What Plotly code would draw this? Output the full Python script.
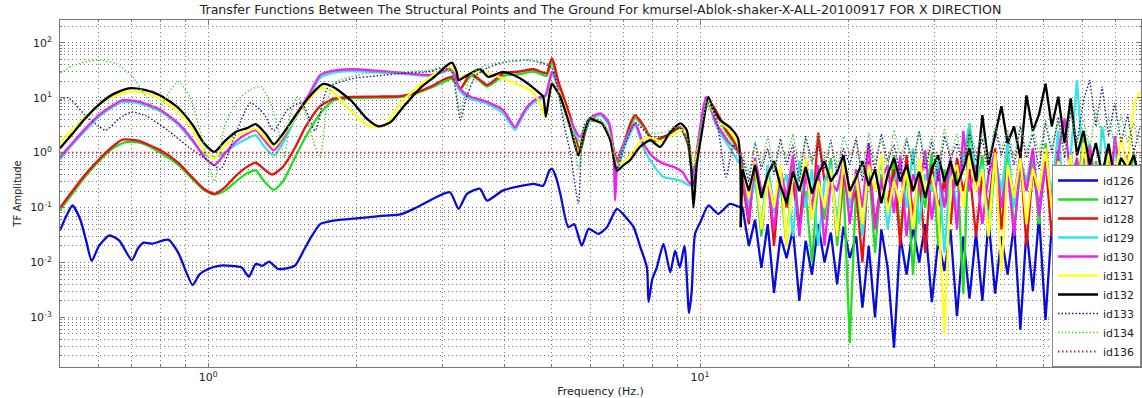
import plotly.graph_objects as go

# ---------------- data ----------------
TITLE = ("Transfer Functions Between The Structural Points and The Ground For "
         "kmursel-Ablok-shaker-X-ALL-20100917 FOR X DIRECTION")

# shared frequency grid for the noisy high-frequency part (Hz)
NOISE_F = [12.2, 12.57, 12.94, 13.33, 13.73, 14.14, 14.57, 15.0, 15.45, 15.92,
           16.4, 16.89, 17.39, 17.91, 18.45, 19.0, 19.57, 20.16, 20.77, 21.39,
           22.03, 22.69, 23.37, 24.07, 24.8, 25.54, 26.3, 27.1, 27.9, 28.7,
           29.6, 30.5, 31.4, 32.3, 33.3, 34.3, 35.3, 36.4, 37.5, 38.6,
           39.8, 41.0, 42.2, 43.5, 44.8, 46.1, 47.5, 48.9, 50.4, 51.9,
           53.5, 55.1, 56.7, 58.4, 60.2, 62.0, 63.8, 65.7, 67.7, 69.7,
           71.8, 74.0, 76.2, 78.5]

# id126 (blue)
F126 = [0.5, 0.515, 0.53, 0.55, 0.565, 0.58, 0.6, 0.63, 0.66, 0.7, 0.72, 0.74, 0.77, 0.83, 0.87,
        0.93, 0.96, 1.0, 1.06, 1.17, 1.21, 1.25, 1.29, 1.33, 1.39, 1.5, 1.57, 1.62, 1.69, 1.8,
        1.95, 2.28, 2.46, 2.66, 3.1, 3.23, 3.36, 3.57, 3.69, 3.98, 4.59, 4.8, 4.93, 5.0, 5.1,
        5.2, 5.4, 5.55, 5.75, 5.94, 6.22, 6.47, 6.78, 7.16, 7.33, 7.55, 7.8, 7.86, 8.0, 8.17,
        8.43, 8.7, 8.9, 9.1, 9.3, 9.5, 9.62, 9.77, 10.05, 10.4, 10.9, 11.5, 12.1]
V126 = [0.038, 0.07, 0.109, 0.06, 0.025, 0.0107, 0.02, 0.031, 0.025, 0.011, 0.018, 0.023, 0.022, 0.026, 0.015,
        0.0039, 0.006, 0.0076, 0.0088, 0.0081, 0.0055, 0.0094, 0.0087, 0.0104, 0.0076, 0.0087, 0.0176, 0.029, 0.05, 0.058,
        0.062, 0.071, 0.075, 0.101, 0.19, 0.095, 0.178, 0.22, 0.134, 0.205, 0.27, 0.25, 0.45, 0.51, 0.35,
        0.178, 0.044, 0.05, 0.0203, 0.041, 0.033, 0.044, 0.095, 0.058, 0.044, 0.02, 0.0081, 0.0019, 0.005, 0.0081,
        0.0218, 0.0066, 0.0164, 0.0081, 0.0203, 0.0012, 0.003, 0.033, 0.058, 0.109, 0.077, 0.117, 0.1]
N126 = [0.1, 0.02, 0.06, 0.008, 0.05, 0.0028, 0.03, 0.012, 0.04, 0.002, 0.025, 0.006, 0.05, 0.01, 0.035,
        0.004, 0.045, 0.012, 0.03, 0.0015, 0.02, 0.001, 0.04, 0.008, 0.00028, 0.03, 0.006, 0.045, 0.01, 0.05,
        0.0019, 0.025, 0.007, 0.04, 0.00105, 0.03, 0.0022, 0.035, 0.002, 0.06, 0.0027, 0.03, 0.006, 0.05, 0.0006,
        0.04, 0.003, 0.07, 0.0009, 0.05, 0.004, 0.06, 0.002, 0.045, 0.008, 0.03, 0.003, 0.05, 0.006, 0.04,
        0.002, 0.03, 0.005, 0.02]

# id127 (green)
F127 = [0.5, 0.53, 0.56, 0.6, 0.64, 0.68, 0.73, 0.8, 0.87, 0.93, 0.98, 1.03, 1.08, 1.14, 1.2, 1.25,
        1.3, 1.36, 1.42, 1.5, 1.6, 1.7, 1.8, 1.95, 2.2, 2.46, 2.65, 2.83, 3.0, 3.13, 3.2, 3.26,
        3.42, 3.55, 3.69, 3.85, 3.98, 4.3, 4.59, 4.88, 4.95, 5.0, 5.05, 5.15, 5.28, 5.45, 5.7,
        5.85, 5.97, 6.32, 6.6, 6.78, 7.04, 7.2, 7.38, 7.67, 8.03, 8.56, 9.13, 9.45, 9.7, 9.85,
        10.05, 10.4, 10.95, 11.3, 11.7, 12.1]
V127 = [0.09, 0.18, 0.35, 0.7, 1.2, 1.56, 1.5, 1.0, 0.6, 0.33, 0.21, 0.173, 0.2, 0.3, 0.42, 0.475,
        0.3, 0.21, 0.3, 0.8, 2.4, 5.5, 9.0, 9.8, 10.0, 10.3, 12.0, 15.0, 19.0, 22.0, 17.0, 14.5,
        25.0, 21.0, 16.0, 20.0, 25.0, 27.0, 30.0, 25.0, 36.0, 44.0, 36.0, 18.0, 9.5, 4.2, 1.0,
        2.4, 3.8, 3.4, 1.6, 0.62, 1.5, 2.9, 4.3, 3.0, 1.6, 1.95, 2.7, 1.4, 0.3, 0.9,
        2.6, 8.0, 4.2, 2.4, 1.5, 0.85]
N127 = [0.6, 0.08, 0.4, 0.03, 0.5, 0.1, 0.3, 0.02, 0.6, 0.05, 0.2, 0.01, 0.35, 0.06, 0.8, 0.02,
        0.3, 0.00034, 0.25, 0.04, 0.6, 0.015, 0.4, 0.08, 0.9, 0.03, 0.5, 0.006, 0.3, 0.1, 1.0, 0.02,
        0.5, 0.05, 0.7, 0.0027, 3.4, 0.2, 0.9, 0.03, 0.6, 0.1, 1.2, 0.04, 0.5, 0.2, 0.8, 0.05,
        1.5, 0.1, 0.6, 0.03, 0.9, 0.2, 1.8, 0.08, 0.7, 0.15, 1.2, 0.05, 0.6, 0.2, 1.0, 0.1]

# id128 (red)
F128 = [0.5, 0.53, 0.56, 0.6, 0.64, 0.67, 0.72, 0.8, 0.87, 0.93, 0.98, 1.03, 1.08, 1.14, 1.2, 1.25,
        1.3, 1.35, 1.42, 1.5, 1.58, 1.69, 1.8, 1.95, 2.2, 2.46, 2.65, 2.83, 3.0, 3.13, 3.2, 3.26,
        3.42, 3.55, 3.69, 3.85, 3.98, 4.3, 4.59, 4.88, 4.95, 5.0, 5.05, 5.15, 5.28, 5.45, 5.7,
        5.85, 5.97, 6.32, 6.6, 6.78, 7.04, 7.2, 7.38, 7.67, 8.03, 8.56, 9.13, 9.45, 9.7, 9.85,
        10.05, 10.4, 10.95, 11.3, 11.7, 12.1]
V128 = [0.1, 0.2, 0.38, 0.75, 1.3, 1.73, 1.65, 1.1, 0.65, 0.35, 0.22, 0.178, 0.23, 0.38, 0.55, 0.66,
        0.5, 0.4, 0.55, 1.2, 3.0, 7.0, 9.6, 10.4, 10.5, 10.7, 12.5, 15.8, 21.0, 24.0, 18.0, 14.8,
        27.8, 22.0, 17.0, 22.0, 27.8, 30.0, 33.0, 27.8, 42.0, 52.0, 42.0, 20.0, 10.4, 4.5, 1.1,
        2.5, 3.9, 3.6, 1.7, 0.72, 1.68, 3.2, 4.8, 3.15, 1.68, 2.07, 2.9, 1.5, 0.27, 1.0,
        2.9, 9.0, 4.5, 2.6, 1.68, 0.96]
N128 = [0.3, 0.05, 0.7, 0.15, 0.4, 0.02, 0.5, 0.1, 0.3, 0.04, 0.8, 0.06, 2.3, 0.3, 0.5, 0.03,
        0.4, 0.1, 0.2, 0.01, 0.7, 0.05, 0.3, 0.12, 0.5, 0.02, 0.9, 0.07, 0.4, 0.015, 0.6, 0.1,
        0.3, 0.05, 0.8, 0.2, 0.5, 0.03, 0.4, 0.09, 1.2, 0.04, 0.6, 0.15, 0.9, 0.02, 0.5, 0.1,
        0.7, 0.03, 1.1, 0.2, 0.4, 0.06, 0.8, 0.1, 0.5, 0.04, 0.9, 0.15, 0.6, 0.08, 0.4, 0.2]

# id129 (cyan)
F129 = [0.5, 0.53, 0.56, 0.6, 0.64, 0.67, 0.72, 0.8, 0.87, 0.93, 0.98, 1.03, 1.08, 1.14, 1.2, 1.25,
        1.3, 1.36, 1.42, 1.5, 1.6, 1.69, 1.8, 1.95, 2.2, 2.46, 2.83, 3.0, 3.1, 3.18, 3.23, 3.3,
        3.42, 3.69, 3.98, 4.1, 4.21, 4.3, 4.45, 4.66, 4.85, 4.95, 5.0, 5.05, 5.24, 5.45, 5.7,
        5.97, 6.27, 6.52, 6.67, 6.8, 7.0, 7.38, 7.67, 8.03, 8.43, 8.83, 9.2, 9.55, 9.85, 10.3,
        10.8, 11.5, 12.1]
V129 = [0.75, 1.4, 2.4, 4.5, 6.8, 8.3, 8.0, 5.6, 3.2, 1.6, 0.95, 0.83, 1.0, 1.4, 1.8, 2.07,
        1.3, 0.89, 1.5, 4.0, 10.0, 23.0, 28.5, 30.5, 29.0, 27.5, 25.0, 29.0, 32.0, 23.0, 14.5, 11.5,
        9.5, 7.8, 5.2, 3.5, 2.6, 3.6, 6.2, 9.0, 10.5, 20.0, 26.0, 24.0, 8.5, 3.6, 1.6,
        3.9, 4.8, 3.2, 0.9, 0.5, 1.2, 3.1, 1.2, 0.6, 0.36, 0.33, 0.3, 0.25, 0.9, 9.5,
        3.0, 1.2, 0.6]
N129 = [0.5, 0.1, 0.3, 0.05, 0.6, 0.08, 0.2, 0.4, 0.03, 0.7, 0.1, 0.5, 0.02, 0.3, 0.6, 0.05,
        0.9, 0.1, 0.4, 0.03, 0.5, 0.2, 0.8, 0.04, 0.3, 0.6, 0.1, 1.2, 0.05, 0.4, 0.2, 0.7,
        0.015, 0.5, 0.1, 0.8, 3.4, 0.3, 0.6, 0.05, 0.9, 0.2, 1.5, 0.1, 0.7, 0.3, 1.1, 0.08,
        0.6, 0.2, 2.5, 0.1, 0.9, 21.0, 0.4, 1.5, 0.1, 3.0, 0.5, 1.2, 0.2, 0.8, 0.05, 0.5]

# id130 (magenta)
F130 = [0.5, 0.53, 0.56, 0.6, 0.64, 0.67, 0.72, 0.8, 0.87, 0.93, 0.98, 1.03, 1.08, 1.14, 1.2, 1.25,
        1.3, 1.36, 1.42, 1.5, 1.6, 1.69, 1.8, 1.95, 2.2, 2.46, 2.83, 3.0, 3.1, 3.18, 3.23, 3.3,
        3.42, 3.69, 3.98, 4.1, 4.21, 4.3, 4.45, 4.66, 4.85, 4.95, 5.0, 5.05, 5.24, 5.45, 5.7,
        5.97, 6.27, 6.52, 6.67, 6.72, 6.8, 7.0, 7.38, 7.67, 8.03, 8.43, 8.83, 9.2, 9.55, 9.85,
        10.3, 10.8, 11.5, 12.1]
V130 = [0.83, 1.5, 2.6, 4.8, 7.2, 9.0, 8.6, 6.0, 3.4, 1.7, 0.85, 0.59, 0.95, 1.6, 2.2, 2.56,
        1.7, 1.1, 1.8, 4.5, 11.0, 25.9, 31.0, 33.0, 31.0, 28.5, 25.9, 30.0, 34.5, 25.0, 15.8, 12.8,
        10.4, 8.4, 5.9, 4.0, 2.9, 4.0, 6.8, 9.7, 11.1, 22.0, 29.6, 27.0, 9.0, 3.9, 1.93,
        4.2, 5.2, 3.6, 1.1, 0.134, 0.72, 1.5, 3.4, 1.46, 0.83, 0.63, 0.55, 0.45, 0.27, 1.1,
        10.4, 3.4, 1.46, 0.97]
N130 = [0.4, 0.06, 0.8, 0.2, 0.3, 0.04, 0.5, 0.15, 0.9, 0.03, 0.4, 0.1, 0.6, 0.02, 0.3, 0.2,
        0.7, 0.05, 0.5, 0.1, 1.5, 0.04, 0.3, 0.6, 0.08, 0.9, 0.03, 0.4, 0.2, 1.1, 0.06, 0.5,
        0.1, 0.8, 0.04, 2.5, 0.2, 0.6, 0.05, 0.4, 1.0, 0.1, 0.5, 0.03, 0.8, 0.2, 1.2, 0.07,
        0.6, 0.15, 1.0, 4.2, 0.3, 0.8, 0.1, 1.4, 0.2, 0.6, 0.05, 2.0, 0.3, 0.9, 0.1, 0.5]

# id131 (yellow)
F131 = [0.5, 0.53, 0.56, 0.6, 0.64, 0.69, 0.74, 0.8, 0.87, 0.93, 0.98, 1.03, 1.08, 1.14, 1.2, 1.25,
        1.31, 1.36, 1.42, 1.5, 1.6, 1.69, 1.78, 1.9, 2.05, 2.17, 2.3, 2.46, 2.65, 2.83, 3.0, 3.1,
        3.2, 3.23, 3.35, 3.57, 3.8, 4.1, 4.51, 4.7, 4.85, 4.93, 5.0, 5.1, 5.25, 5.45, 5.66,
        5.8, 5.97, 6.32, 6.57, 6.78, 7.0, 7.2, 7.55, 7.92, 8.3, 8.7, 9.13, 9.4, 9.7, 10.05,
        10.4, 10.6, 11.0, 11.5, 11.95, 12.1]
V131 = [1.5, 2.6, 4.3, 7.5, 10.5, 12.8, 12.5, 9.5, 5.5, 2.6, 1.1, 0.78, 1.3, 2.0, 2.4, 2.75,
        1.8, 1.27, 2.0, 4.2, 9.0, 14.8, 13.5, 7.5, 3.8, 2.9, 3.4, 7.9, 15.0, 24.0, 33.0, 36.7,
        28.0, 22.6, 26.0, 29.6, 25.9, 20.0, 13.8, 9.0, 4.5, 10.0, 19.0, 16.0, 9.0, 3.2, 1.0,
        2.4, 4.2, 3.6, 1.9, 0.6, 0.7, 0.85, 1.6, 1.9, 1.6, 2.0, 2.6, 2.2, 0.6, 2.2,
        8.5, 6.0, 3.6, 2.5, 1.4, 0.5]
N131 = [0.5, 0.15, 0.7, 0.04, 0.35, 0.1, 0.6, 0.02, 0.4, 0.2, 0.8, 0.06, 0.3, 0.1, 0.5, 0.03,
        0.7, 0.15, 0.4, 0.05, 0.6, 0.2, 0.9, 0.08, 0.3, 0.12, 0.5, 0.04, 0.8, 0.2, 0.4, 0.1,
        0.00049, 0.3, 0.6, 0.1, 0.9, 0.2, 0.5, 0.03, 1.0, 0.0066, 0.6, 0.15, 0.8, 0.05, 0.5, 0.2,
        1.2, 0.1, 0.7, 0.3, 0.9, 0.08, 1.5, 0.2, 0.6, 0.1, 1.0, 0.3, 2.0, 0.5, 7.9, 13.0]

# id132 (black)
F132 = [0.5, 0.53, 0.56, 0.6, 0.64, 0.69, 0.74, 0.8, 0.87, 0.93, 0.98, 1.03, 1.08, 1.14, 1.2, 1.25,
        1.31, 1.36, 1.42, 1.5, 1.6, 1.71, 1.8, 1.95, 2.1, 2.22, 2.35, 2.5, 2.7, 2.9, 3.05, 3.13,
        3.2, 3.23, 3.35, 3.57, 3.71, 3.98, 4.25, 4.51, 4.7, 4.8, 4.86, 4.93, 5.0, 5.1, 5.2,
        5.45, 5.66, 5.8, 5.97, 6.15, 6.32, 6.57, 6.78, 7.0, 7.2, 7.55, 7.92, 8.3, 8.7, 9.13,
        9.4, 9.6, 9.7, 9.85, 10.05, 10.4, 10.6, 11.0, 11.5, 11.95, 12.1]
V132 = [1.2, 2.2, 4.0, 7.5, 11.5, 14.8, 14.0, 11.0, 6.5, 3.2, 1.5, 1.03, 1.6, 2.4, 2.8, 3.3,
        2.2, 1.42, 2.2, 4.5, 10.0, 17.7, 15.5, 9.0, 4.2, 3.0, 3.6, 7.0, 15.0, 25.0, 38.0, 43.5,
        30.0, 21.0, 25.0, 33.0, 24.0, 29.6, 24.0, 17.0, 12.5, 10.4, 4.5, 10.0, 18.0, 14.0, 10.4,
        2.9, 0.89, 2.2, 4.2, 3.8, 3.4, 1.7, 0.47, 0.6, 0.72, 1.27, 1.68, 1.27, 2.38, 3.4,
        2.56, 0.5, 0.1, 0.6, 1.9, 10.4, 6.8, 3.9, 2.9, 1.8, 0.044]
N132 = [0.5, 0.2, 0.6, 0.15, 0.4, 0.7, 0.25, 0.12, 0.45, 0.2, 0.55, 0.18, 0.4, 0.7, 0.3, 0.45,
        0.9, 0.2, 0.35, 0.7, 0.25, 0.5, 0.12, 0.4, 0.8, 0.3, 0.6, 0.2, 0.45, 0.15, 0.5, 0.9,
        0.3, 0.7, 0.25, 0.5, 1.2, 0.3, 4.8, 0.6, 2.0, 7.0, 1.5, 3.0, 0.8, 11.0, 2.5, 5.0,
        18.0, 3.0, 10.4, 1.5, 9.7, 0.9, 2.5, 0.6, 1.5, 0.4, 1.46, 0.3, 0.8, 0.5, 0.9, 0.3]

# id133 (navy, dotted)
F133 = [0.5, 0.52, 0.56, 0.6, 0.62, 0.66, 0.7, 0.75, 0.83, 0.92, 1.0, 1.06, 1.13, 1.22, 1.3, 1.36,
        1.45, 1.55, 1.65, 1.75, 1.95, 2.2, 2.5, 2.83, 3.0, 3.13, 3.2, 3.26, 3.35, 3.5, 3.7, 4.04,
        4.5, 4.8, 5.0, 5.1, 5.2, 5.3, 5.45, 5.66, 5.8, 6.0, 6.3, 6.6, 6.78, 7.0, 7.4, 7.9,
        8.5, 9.1, 9.5, 9.7, 10.0, 10.4, 10.8, 11.3, 11.7, 12.1]
V133 = [9.0, 10.0, 5.0, 3.0, 2.55, 4.2, 5.5, 4.6, 2.5, 1.2, 0.72, 0.5, 1.93, 8.0, 5.0, 2.5,
        6.0, 8.0, 2.5, 15.0, 22.0, 25.0, 28.0, 30.0, 35.0, 30.0, 10.0, 3.9, 10.0, 25.0, 35.0, 45.0,
        48.0, 42.0, 35.0, 20.0, 8.0, 3.0, 1.0, 0.117, 3.0, 4.5, 3.5, 1.5, 0.5, 1.2, 3.5, 2.0,
        2.0, 2.8, 1.2, 0.25, 2.0, 8.0, 4.0, 0.36, 1.4, 0.8]
N133 = [0.8, 0.3, 1.5, 0.5, 1.2, 0.4, 1.8, 0.6, 1.4, 0.3, 2.0, 0.7, 1.3, 0.5, 1.7, 0.4,
        1.2, 0.6, 1.9, 0.3, 1.5, 0.5, 2.2, 0.7, 1.4, 0.4, 1.8, 0.6, 2.5, 0.5, 1.6, 0.3,
        2.0, 0.8, 1.5, 0.5, 2.4, 0.7, 1.8, 0.4, 2.8, 0.9, 2.0, 0.6, 3.0, 0.8, 2.2, 0.5,
        3.5, 1.0, 4.5, 0.8, 6.0, 1.5, 9.0, 21.0, 3.0, 16.0, 2.0, 8.0, 1.5, 5.0, 1.0, 3.0]

# id134 (green, dotted)
F134 = [0.5, 0.53, 0.57, 0.6, 0.65, 0.7, 0.75, 0.79, 0.83, 0.87, 0.92, 0.97, 1.03, 1.08, 1.15, 1.22,
        1.28, 1.34, 1.39, 1.43, 1.47, 1.52, 1.58, 1.64, 1.69, 1.74, 1.8, 2.1, 2.5, 2.83, 3.0, 3.13,
        3.2, 3.26, 3.32, 3.45, 3.7, 4.04, 4.5, 4.8, 4.95, 5.05, 5.15, 5.3, 5.5, 5.66, 5.8, 6.0,
        6.3, 6.6, 6.75, 7.0, 7.4, 7.9, 8.5, 9.1, 9.5, 9.7, 10.0, 10.4, 10.8, 11.3, 11.7, 12.1]
V134 = [28.0, 38.0, 46.0, 48.0, 42.0, 25.0, 10.0, 5.9, 12.0, 19.5, 10.0, 2.0, 0.3, 3.0, 9.0, 14.0,
        15.9, 8.0, 2.5, 0.83, 5.0, 10.4, 5.0, 1.5, 0.83, 6.0, 18.5, 27.8, 30.0, 32.0, 36.0, 30.0,
        12.0, 5.0, 12.0, 28.0, 40.0, 45.0, 48.0, 45.0, 40.0, 30.0, 12.0, 4.0, 2.5, 0.5, 2.5, 4.5,
        3.8, 1.8, 0.7, 1.5, 4.0, 2.2, 2.4, 3.0, 1.5, 0.5, 2.5, 9.0, 4.5, 2.0, 1.2, 0.9]
N134 = [1.0, 0.4, 1.6, 0.6, 2.0, 0.5, 1.4, 0.8, 2.2, 0.5, 1.7, 0.6, 2.4, 0.7, 1.5, 0.5,
        2.0, 0.9, 1.6, 0.4, 2.3, 0.7, 1.8, 0.5, 2.6, 0.8, 1.9, 0.6, 2.5, 0.7, 2.0, 0.5,
        2.8, 0.9, 2.2, 0.6, 3.0, 1.0, 2.4, 0.7, 3.2, 1.1, 2.6, 0.8, 3.5, 1.0, 2.8, 0.9,
        4.0, 1.2, 3.5, 1.0, 5.0, 1.5, 4.0, 1.2, 6.0, 1.8, 4.5, 1.3, 5.0, 1.5, 3.5, 1.2]

# id136 (red, dotted) - flat at 1
F136 = [0.5, 79.0]
V136 = [1.0, 1.0]

# axis labels
X_MAJOR = [1, 10]
X_MAJOR_TEXT = ["10<sup>0</sup>", "10<sup>1</sup>"]
Y_MAJOR = [1e-3, 1e-2, 1e-1, 1, 10, 100]
Y_MAJOR_TEXT = ["10<sup>-3</sup>", "10<sup>-2</sup>", "10<sup>-1</sup>",
                "10<sup>0</sup>", "10<sup>1</sup>", "10<sup>2</sup>"]

# ---------------- figure ----------------
FONT = "DejaVu Sans"
TXT = "#222222"

series = [
    ("id126", F126, V126, N126, "#0b0bd6", "solid", 2.3),
    ("id127", F127, V127, N127, "#22dd22", "solid", 2.3),
    ("id128", F128, V128, N128, "#e81010", "solid", 2.3),
    ("id129", F129, V129, N129, "#33e6e6", "solid", 2.3),
    ("id130", F130, V130, N130, "#ee22ee", "solid", 2.3),
    ("id131", F131, V131, N131, "#ffff22", "solid", 2.3),
    ("id132", F132, V132, N132, "#000000", "solid", 2.3),
    ("id133", F133, V133, N133, "#1a1a80", "1.5px,2px", 1.4),
    ("id134", F134, V134, N134, "#55cc55", "1.5px,2px", 1.4),
]

fig = go.Figure()
for name, f, v, nv, col, dash, w in series:
    # smooth low-frequency part
    fig.add_trace(go.Scatter(x=f, y=v, mode="lines", name=name, legendgroup=name,
                             line=dict(color=col, width=w, dash=dash, shape="spline", smoothing=0.6)))
    # noisy high-frequency part, joined to the last smooth point
    fig.add_trace(go.Scatter(x=[f[-1]] + NOISE_F, y=[v[-1]] + nv, mode="lines", name=name,
                             legendgroup=name, showlegend=False,
                             line=dict(color=col, width=w, dash=dash)))
fig.add_trace(go.Scatter(x=F136, y=V136, mode="lines", name="id136",
                         line=dict(color="#cc2222", width=1.8, dash="1.5px,2.5px")))

x_minor = [m * 10.0 ** e for e in (-1, 0, 1) for m in range(2, 10)]
x_minor = [t for t in x_minor if 0.5 < t <= 79]
y_minor = [m * 10.0 ** e for e in range(-4, 3) for m in range(2, 10)]
y_minor = [t for t in y_minor if 1.25e-4 <= t <= 260]

GRID = dict(showgrid=True, gridcolor="#7a7a7a", griddash="1px,3px", gridwidth=1)
axis_common = dict(
    type="log", showline=True, linecolor="#777777", linewidth=1, mirror="ticks",
    ticks="inside", ticklen=4, tickcolor="#777777", zeroline=False,
    tickfont=dict(family=FONT, size=11, color=TXT), tickmode="array", **GRID,
)

fig.update_xaxes(**axis_common, range=[-0.30103, 1.8965],
                 tickvals=X_MAJOR, ticktext=X_MAJOR_TEXT,
                 minor=dict(tickmode="array", tickvals=x_minor, ticks="inside", ticklen=2,
                            tickcolor="#777777", **GRID),
                 title=dict(text="Frequency (Hz.)", font=dict(family=FONT, size=11, color=TXT),
                            standoff=4))
fig.update_yaxes(**axis_common, range=[-3.903, 2.415],
                 tickvals=Y_MAJOR, ticktext=Y_MAJOR_TEXT, ticklabelstandoff=5,
                 minor=dict(tickmode="array", tickvals=y_minor, ticks="inside", ticklen=2,
                            tickcolor="#777777", **GRID),
                 title=dict(text="TF Amplitude", font=dict(family=FONT, size=10, color=TXT),
                            standoff=6))

fig.update_layout(
    width=1142, height=398,
    margin=dict(l=60, r=1, t=20, b=31),
    paper_bgcolor="white", plot_bgcolor="white",
    font=dict(family=FONT, size=11, color=TXT),
    title=dict(text=TITLE, x=0.5, xref="paper", xanchor="center",
               y=0.975, yref="container", yanchor="middle",
               font=dict(family=FONT, size=12.6, color=TXT)),
    showlegend=True,
    legend=dict(x=1, xanchor="right", y=0, yanchor="bottom",
                bgcolor="white", bordercolor="#888888", borderwidth=1,
                font=dict(family=FONT, size=11, color=TXT),
                tracegroupgap=0, itemwidth=40),
)

fig.write_html("out.html")
